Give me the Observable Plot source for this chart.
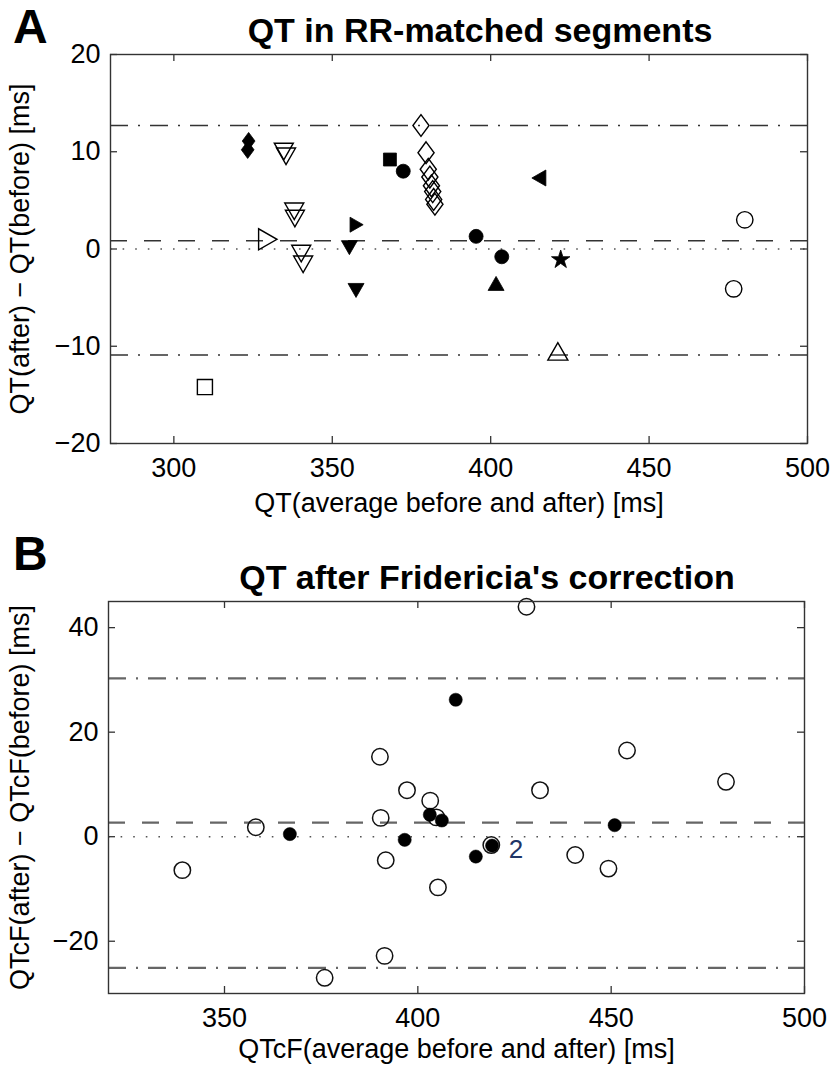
<!DOCTYPE html>
<html><head><meta charset="utf-8">
<script src="https://cdn.jsdelivr.net/npm/d3@7"></script>
<script src="https://cdn.jsdelivr.net/npm/@observablehq/plot@0.6"></script>
<style>
body{margin:0;background:#fff;}
#wrap{position:relative;width:834px;height:1069px;overflow:hidden;font-family:"Liberation Sans",Arial,Helvetica,sans-serif;color:#000;}
.panel{position:absolute;left:0;}
.letter{position:absolute;font-weight:bold;font-size:48px;line-height:1.1;}
.title{position:absolute;font-weight:bold;font-size:34px;line-height:1.1;transform:translateX(-50%);white-space:nowrap;}
</style></head>
<body>
<div id="wrap">
  <div id="pa" class="panel" style="top:0px"></div>
  <div id="pb" class="panel" style="top:530px"></div>
  <div class="letter" style="left:13px;top:1px">A</div>
  <div class="title" style="left:480px;top:12px">QT in RR-matched segments</div>
  <div class="letter" style="left:13px;top:528px">B</div>
  <div class="title" style="left:487px;top:559px">QT after Fridericia's correction</div>
</div>
<script>
// ---------------- Panel A data ----------------
const aX = [323.3, 323.6,
  334.7, 335.4, 338.0, 338.2, 340.2, 340.8,
  329.4, 357.5, 355.4, 357.5,
  368.2, 309.8,
  372.4, 395.4, 403.5,
  378.0, 379.6, 380.3, 380.8, 381.3, 381.7, 382.0, 382.4,
  415.4, 422.1, 401.7, 421.2,
  480.2, 476.7];
const aY = [10.2, 11.1,
  10.1, 9.6, 3.95, 3.2, -0.4, -1.5,
  1.0, 2.5, 0.2, -4.2,
  9.2, -14.2,
  8.0, 1.3, -0.8,
  12.7, 9.9, 8.2, 7.4, 6.5, 5.9, 5.1, 4.6,
  7.3, -1.1, -3.6, -10.6,
  3.0, -4.1];
const aMarker = ["diamond-filled", "diamond-filled",
  "tridown-open", "tridown-open", "tridown-open", "tridown-open", "tridown-open", "tridown-open",
  "triright-open", "triright-filled", "tridown-filled", "tridown-filled",
  "square-filled", "square-open",
  "circle-filled", "circle-filled", "circle-filled",
  "diamond-open", "diamond-open", "diamond-open", "diamond-open", "diamond-open", "diamond-open", "diamond-open", "diamond-open",
  "trileft-filled", "star-filled", "triup-filled", "triup-open",
  "circle-open", "circle-open"];
const aLimits = [12.7, -10.9];
const aMean = 0.85;
const aXTicks = [300, 350, 400, 450, 500];
const aYTicks = [-20, -10, 0, 10, 20];
const aXDomain = [280, 500];
const aYDomain = [-20, 20];

// ---------------- Panel B data ----------------
const bX = [339.1, 358.1, 375.9, 390.2, 390.4, 391.4, 391.7, 397.2, 403.2, 404.8, 405.2, 419.0, 428.1, 431.6, 440.7, 449.3, 454.1, 479.7,
  366.9, 396.6, 403.1, 406.2, 409.8, 415.0, 419.2, 450.9];
const bY = [-6.4, 1.8, -27.0, 15.3, 3.6, -22.8, -4.5, 8.9, 6.9, 3.7, -9.7, -1.6, 44.0, 8.9, -3.5, -6.1, 16.5, 10.5,
  0.5, -0.6, 4.2, 3.1, 26.2, -3.8, -1.7, 2.2];
const bFilled = [false, false, false, false, false, false, false, false, false, false, false, false, false, false, false, false, false, false,
  true, true, true, true, true, true, true, true];
const bLimits = [30.3, -25.1];
const bMean = 2.7;
const bXTicks = [350, 400, 450, 500];
const bYTicks = [-20, 0, 20, 40];
const bXDomain = [320, 500];
const bYDomain = [-30, 45];
const bNote = {x: 419.2, y: -1.7, text: "2"};

// ---------------- symbols ----------------
const poly = (pts) => ({draw(ctx, size) {
  const r = Math.sqrt(size / Math.PI);
  ctx.moveTo(pts[0][0] * r, pts[0][1] * r);
  for (let i = 1; i < pts.length; i++) ctx.lineTo(pts[i][0] * r, pts[i][1] * r);
  ctx.closePath();
}});
const SYM = {
  diamond: poly([[0, -1.15], [0.85, 0], [0, 1.15], [-0.85, 0]]),
  tridown: poly([[-1, -0.8], [1, -0.8], [0, 0.95]]),
  triup: poly([[-1, 0.8], [1, 0.8], [0, -0.95]]),
  triright: poly([[-0.8, -1], [-0.8, 1], [0.95, 0]]),
  trileft: poly([[0.8, -1], [0.8, 1], [-0.95, 0]]),
  square: "square",
  circle: "circle",
  star: "star"
};
const SIZE = {
  "diamond-filled": 7.5, "diamond-open": 9.5,
  "tridown-filled": 8, "tridown-open": 9.5,
  "triup-filled": 8, "triup-open": 10,
  "triright-filled": 7.5, "triright-open": 10.5,
  "trileft-filled": 8,
  "square-filled": 7.3, "square-open": 8.5,
  "circle-filled": 7, "circle-open": 8.2,
  "star-filled": 5.8
};

const FONT = '"Liberation Sans", Arial, Helvetica, sans-serif';

function frameTicks(xt, yt, fw, fh, color) {
  const L = 7;
  return [
    Plot.tickX(xt, {x: d => d, insetTop: fh - L, stroke: color, strokeWidth: 1.3}),
    Plot.tickX(xt, {x: d => d, insetBottom: fh - L, stroke: color, strokeWidth: 1.3}),
    Plot.tickY(yt, {y: d => d, insetRight: fw - L, stroke: color, strokeWidth: 1.3}),
    Plot.tickY(yt, {y: d => d, insetLeft: fw - L, stroke: color, strokeWidth: 1.3})
  ];
}

// ---------------- Panel A ----------------
{
  const W = 834, H = 530, mt = 54, mb = 87, ml = 110, mr = 27;
  const fw = W - ml - mr, fh = H - mt - mb;
  const rows = aX.map((x, i) => ({x, y: aY[i], m: aMarker[i]}));
  const groups = d3.groups(rows, d => d.m);
  const dots = groups.map(([m, data]) => {
    const [shape, kind] = m.split("-");
    const filled = kind === "filled";
    return Plot.dot(data, {
      x: "x", y: "y", symbol: SYM[shape], r: SIZE[m],
      fill: filled ? "#000" : "none",
      stroke: "#000", strokeWidth: filled ? 0.8 : 1.4
    });
  });
  const chart = Plot.plot({
    width: W, height: H, marginTop: mt, marginBottom: mb, marginLeft: ml, marginRight: mr,
    style: {fontFamily: FONT, fontSize: "27px", color: "#000", background: "#fff"},
    x: {domain: aXDomain},
    y: {domain: aYDomain},
    marks: [
      Plot.ruleY([0], {stroke: "#555", strokeWidth: 1.6, strokeDasharray: "1.6,11"}),
      Plot.ruleY([aMean], {stroke: "#333", strokeWidth: 1.7, strokeDasharray: "17,17"}),
      Plot.ruleY(aLimits, {stroke: "#333", strokeWidth: 1.7, strokeDasharray: "18,10,2,10"}),
      ...dots,
      Plot.frame({stroke: "#333", strokeWidth: 1.4}),
      ...frameTicks(aXTicks, aYTicks, fw, fh, "#333"),
      Plot.axisX({ticks: aXTicks, tickSize: 0, tickPadding: 14, tickFormat: d => d,
        label: "QT(average before and after) [ms]", labelArrow: "none", labelAnchor: "center", labelOffset: 68}),
      Plot.axisY({ticks: aYTicks, tickSize: 0, tickPadding: 10,
        label: "QT(after) − QT(before) [ms]", labelArrow: "none", labelAnchor: "center", labelOffset: 101})
    ]
  });
  document.getElementById("pa").appendChild(chart);
}

// ---------------- Panel B ----------------
{
  const W = 834, H = 539, mt = 71, mb = 76, ml = 108, mr = 30;
  const fw = W - ml - mr, fh = H - mt - mb;
  const rows = bX.map((x, i) => ({x, y: bY[i], filled: bFilled[i]}));
  const chart = Plot.plot({
    width: W, height: H, marginTop: mt, marginBottom: mb, marginLeft: ml, marginRight: mr,
    style: {fontFamily: FONT, fontSize: "27px", color: "#000", background: "transparent", overflow: "visible"},
    x: {domain: bXDomain},
    y: {domain: bYDomain},
    marks: [
      Plot.ruleY([0], {stroke: "#555", strokeWidth: 1.6, strokeDasharray: "1.6,11"}),
      Plot.ruleY([bMean], {stroke: "#666", strokeWidth: 2.2, strokeDasharray: "17,17"}),
      Plot.ruleY(bLimits, {stroke: "#666", strokeWidth: 2.4, strokeDasharray: "18,10,2,10"}),
      Plot.dot(rows.filter(d => !d.filled), {x: "x", y: "y", r: 8.2, fill: "none", stroke: "#111", strokeWidth: 1.5}),
      Plot.dot(rows.filter(d => d.filled), {x: "x", y: "y", r: 6.6, fill: "#000", stroke: "#000", strokeWidth: 0.5}),
      Plot.text([bNote], {x: "x", y: "y", text: "text", dx: 24, dy: 4, fill: "#1f3566", fontSize: 26, textAnchor: "middle"}),
      Plot.frame({stroke: "#333", strokeWidth: 1.4}),
      ...frameTicks(bXTicks, bYTicks, fw, fh, "#333"),
      Plot.axisX({ticks: bXTicks, tickSize: 0, tickPadding: 14, tickFormat: d => d,
        label: "QTcF(average before and after) [ms]", labelArrow: "none", labelAnchor: "center", labelOffset: 64}),
      Plot.axisY({ticks: bYTicks, tickSize: 0, tickPadding: 10,
        label: "QTcF(after) − QTcF(before) [ms]", labelArrow: "none", labelAnchor: "center", labelOffset: 99})
    ]
  });
  document.getElementById("pb").appendChild(chart);
}
</script>
</body></html>
